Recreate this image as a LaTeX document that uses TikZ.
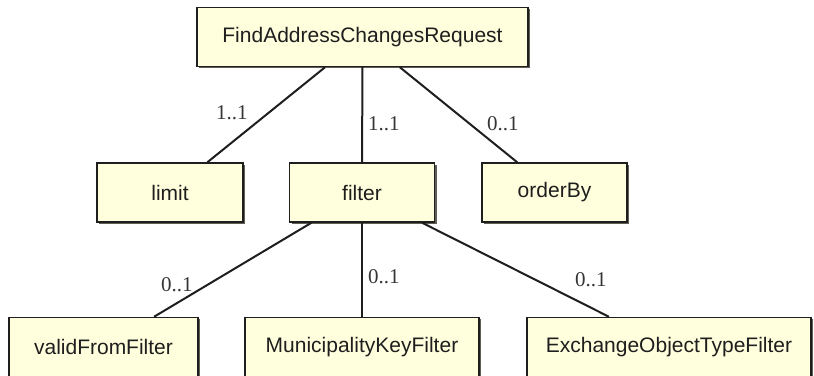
\documentclass[tikz,border=0pt]{standalone}
\usepackage{fontspec}
\setmainfont{Liberation Serif}
\setsansfont{Liberation Sans}
\usepackage{tikz}
\usetikzlibrary{positioning,shadows}
\definecolor{BoxFill}{RGB}{255,255,221}
\definecolor{BoxShadow}{RGB}{95,95,85}
\definecolor{InkDark}{RGB}{30,30,30}
\tikzset{
  elementbox/.style={draw=InkDark, line width=0.75pt, fill=BoxFill, text=InkDark,
    font=\sffamily\fontsize{10.5}{12}\selectfont, inner sep=0pt, minimum height=29.5pt,
    drop shadow={shadow xshift=1pt, shadow yshift=-1pt, fill=BoxShadow, opacity=1}},
  multlabel/.style={font=\fontsize{10.5}{12}\selectfont, text=InkDark!90, inner sep=1pt},
  link/.style={line width=1pt, InkDark}
}

\begin{document}
\begin{tikzpicture}[x=0.5pt, y=0.5pt]
	\useasboundingbox (0,0) rectangle (814,375);
	\node[elementbox, minimum width=165.5pt] (request) at (362.5,338) {FindAddressChangesRequest};
	\node[elementbox, minimum width=73pt] (limit) at (170,182.5) {limit};
	\node[elementbox, minimum width=72.5pt] (filter) at (362,182.5) {filter};
	\node[elementbox, minimum width=72.5pt] (orderBy) at (554.5,182.5) {orderBy};
	\node[elementbox, minimum width=94.5pt] (validFrom) at (103.5,28) {validFromFilter};
	\node[elementbox, minimum width=117pt] (municipality) at (362,28) {MunicipalityKeyFilter};
	\node[elementbox, minimum width=142pt] (exchangeType) at (669,28) {ExchangeObjectTypeFilter};
	\draw[link] (request) -- node[multlabel, pos=0.48, left=9pt] {1..1} (limit);
	\draw[link] (request) -- node[multlabel, pos=0.59, right=1.5pt] {1..1} (filter);
	\draw[link] (request) -- node[multlabel, pos=0.59, right=7.5pt] {0..1} (orderBy);
	\draw[link] (filter) -- node[multlabel, pos=0.66, left=6pt] {0..1} (validFrom);
	\draw[link] (filter) -- node[multlabel, pos=0.57, right=1.5pt] {0..1} (municipality);
	\draw[link] (filter) -- node[multlabel, pos=0.61, right=18pt] {0..1} (exchangeType);
\end{tikzpicture}
\end{document}
